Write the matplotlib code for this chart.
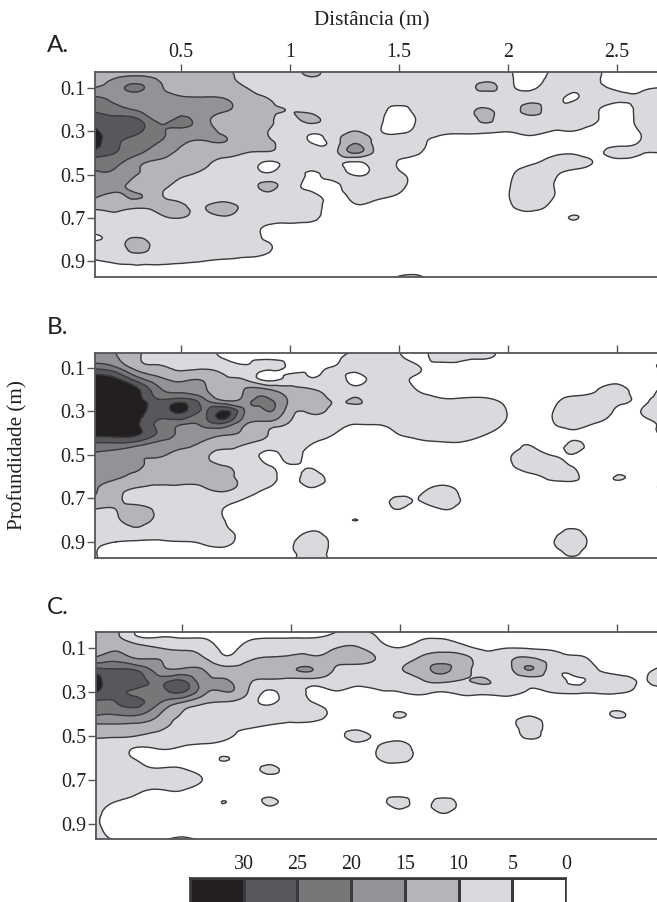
import numpy as np
import matplotlib
matplotlib.use("Agg")
import matplotlib.pyplot as plt
import matplotlib.tri as tri
from matplotlib.colors import ListedColormap

W, H = 657, 902

# grid the values were read on (m)
dist = [0.1, 0.2, 0.3, 0.4, 0.5, 0.6, 0.7, 0.8, 0.9, 1.0, 1.1, 1.2, 1.3, 1.4,
        1.5, 1.6, 1.7, 1.8, 1.9, 2.0, 2.1, 2.2, 2.3, 2.4, 2.5, 2.6, 2.7]
prof = [0.0, 0.05, 0.1, 0.15, 0.2, 0.25, 0.3, 0.35, 0.4, 0.45, 0.5,
        0.55, 0.6, 0.65, 0.7, 0.75, 0.8, 0.85, 0.9, 0.95, 1.0]

panel_a = [
    [12,12,12,12,11,11,11,8,8,8,12,8,8,7,7,7,7,7,7,6,3,6,8,6,2,2,2],
    [12,14.5,15.5,14,12,12,11,9,8,8,10,8,8,7,7,7,7,7,8,6,3,6,7,6,2,2,2],
    [15,18,21,16,13,12,11.5,10,8,7.5,7,7,7,7,7,7,7,8,11,7,4,7,6,6,4,4,5],
    [21,19,17,16,15.5,15.5,15,12,10,8,7.5,7,7,7,7,7,7,7,7,7,8,7,4.6,7,6,5.5,7],
    [24,22,19,17,18,17,15.5,13,11,9.8,8.5,7,8,7,4,7,7,7,10.7,7,12,7,7,6,3,6,7],
    [28,27,26,19,21,17,13,12,11,8.5,11,7,7,6,3,6,7,7,10.7,7,8,6,6,5.5,3,6,8],
    [31,28,26,21,19,17,14,12,10,7.5,6,7,10,6,4,6,6,6,6,5.2,6,5,5,3,2,5,8],
    [33,26,23,20,16,14.5,15,12,10.5,8,4.8,7,14.5,8,8,6,3.5,3,3,3,3.5,3,3,3,3,5,8],
    [28,25,21,17,14,12,11.5,10,9.5,8,7,8,15.5,8,7,5,3,3,3,3,3,4,4.5,4,6.5,5.5,5],
    [22,21,16,14,13,11,9,8,4,7,7,7,3.5,7,4.5,3,3,3,3,3,4.5,6.5,7,4.5,3,3,3],
    [19,19,15,13,11,9,8,7.5,6,7,4.5,6.5,4.5,7,6,3,3,3,3,4,8,6.5,3,3,3,3,3],
    [18,17,13,11.5,8,7,7,8,11,7,4,4,7,7,6,3,3,3,3,4.5,8,5.5,2,3,3,3,3],
    [16,14,15.5,11,8,7,7,7,8.5,7,6,4,6,6,4.5,3,3,3,3,4.8,8,5.5,3,3,3,3,3],
    [11,11,10.5,11,11,9.5,12,8,7,7,6.5,3.5,4.5,3,3,3,3,3,3,4,6.5,4,3,3,3,3,3],
    [8,9,8,9,10,8,9,7,7,6.5,6,3,3,3,3,3,3,3,3,3,3,3,5.2,3,3,3,3],
    [6,7,7,7,7,7,7,7,4,3.5,3,3,3,3,3,3,3,3,3,3,3,3,3,3,3,3,3],
    [4.8,7,11,7,7,7,7,6.5,4.5,3,3,3,3,3,3,3,3,3,3,3,3,3,3,3,3,3,3],
    [6.5,7,11,7.5,7,7,6.5,6.5,5.5,2,3,3,3,3,3,3,3,3,3,3,3,3,3,3,3,3,3],
    [4.5,5.5,6,6,5.5,5,4.5,4,3,3,3,3,3,3,3,3,3,3,3,3,3,3,3,3,3,3,3],
    [3,3,4.5,3,3,3,3,3,3,3,3,3,3,3,4,4,3,3,3,3,3,3,3,3,3,3,3],
    [3,3,3,3,3,3,3,3,3,3,3,3,3,3,8,8,3,3,3,3,3,3,3,3,3,3,3],
]

panel_b = [
    [17,15,11,9,8,7,4,3,3,3,3,4,5,6,6,4,8,7,6,3,3,3,3,3,3,3,3],
    [17,15.5,10.5,9,8,7,4.5,4,4,4,4,4.5,5.5,5.5,5.5,4,7,6,5.5,3,3,3,3,3,3,3,3],
    [24,21,13,11,9,9.5,8,5.5,6,4.5,4.5,5.3,6,7,7,5,3,3,3,3,3,3,3,3,3,3,5.5],
    [33,31,22,16,14,14.5,11,9,3.5,6.5,5.2,6.5,4,7,6.5,4,3,3,3,3,3,3,3,3,3,3,3],
    [35,35,31,21,18,16,12,15.5,15.5,12,10.5,7.5,7,7,7,4.5,3.5,3,3,3,3,3,3,4.5,7,3,6],
    [36,36,33,26,28,22,15,18,21,14.5,14,9.5,10.5,7,7,6.5,5.5,5.8,5.8,4,3,4,6.5,7,6.5,4.5,7],
    [37,37,34,27,31,24.5,31,19,20,12,11,8,7,7,7,7,7,7,7,4.8,3,4.8,7,7,4.5,4.8,8],
    [37,37,31,24,22,22,26,16,14,9.8,8,6.5,5.3,5.5,5.5,7,8,7,6.5,4.5,3,4.8,6,5.2,4,4,5.5],
    [33,33,31,24,19,17.5,16,14,10,7.5,7,5.2,3.5,3.5,5.2,6.5,7,6.5,5.3,3,3,3,4.5,3,3,3,5.5],
    [24,24,22,18,17,14,12,10,7.5,7,5,3.5,3,3,3,4,4.5,4.5,3,3,4.8,3,5.6,3,3,3,3],
    [19.5,18,15.5,15.5,13,11,8.5,7.5,4,6,3.5,3,3,3,3,3,3,3,3,4.5,6.5,4.9,4.9,3,3,3,3],
    [18,17,16,12,11,11,10,8,5.2,4.5,4.5,3,3,3,3,3,3,3,3,4,7,6,4.8,3,3,3,3],
    [17,16,13,11,11,11.5,11.5,8.5,7,3.5,6.5,3,3,3,3,3,3,3,3,3,4,6,6,3,5.2,3,3],
    [16,12,10,9.5,9.5,9.8,11,8,5,3.5,5,3,3,3,3,3.5,6,3,3,3,3,2.5,2.5,3,3,3,5.5],
    [14.5,11,8.5,8,8,8,7.5,4.8,3,3,3,3,3,3,5.5,5.3,8,4,3,3,3,3,3,3,3,3,3],
    [10,10,11,9,7,6.5,4.8,3,3,3,3,3,3,3,5,3,5,3,3,3,3,3,3,3,3,3,3],
    [8,9.5,11,9,7,6.5,5,3,3,3,3,3,5.05,3,3,3,3,3,3,3,3,3,3,3,3,3,3],
    [7,7.5,9,7,7,6.5,6,3,3,3,5,3,3,3,3,3,3,3,3,3,3,3.5,5.5,3,3,3,3],
    [6,5,4.5,4.6,4.9,5.5,6,3.5,3,4,7.5,4,3,3,3,3,3,3,3,3,3,4.5,7.5,3,3,3,3],
    [5.5,3,3,3,3,3,3.5,3,3,4,7,3.5,3,3,3,3,3,3,3,3,3,3.5,5.5,3,3,3,3],
    [6,3,3,3,3,3,3,3,3,3,8,3,3,3,3,3,3,3,3,3,3,3,3,3,3,3,3],
]

panel_c = [
    [14,12,6,3,3,3,3,3,3,3,3,4,4,3,3,3,3,3,3,3,3,3,3,3,3,3,3],
    [13,11,5,4.8,4.5,4.5,3,4,4.5,4.5,4.5,6,7,4.8,3,4.5,4.5,4,3,3,3,3,3,3,3,3,3],
    [13,14,12,9.8,9,8,4,6.5,8,8.5,8.8,9.7,10.5,7,5,7,8,6,4,4.8,4.5,4,3,3,3,3,3],
    [16,18,15,14.8,12,10.5,6,9,10.5,11,11,11,12,9.5,7.5,11,13,11.5,7,9,10.8,7.5,6,4,3,3,3],
    [27,25.5,24,17,16,15,12,12,13,14,15.1,9.8,8,7.5,9.5,13,16,11.5,7.5,8,15.2,7.5,6,5.3,3.5,3.5,6],
    [33,27,27,23,25.5,17,15.5,11,9,8.5,8,7,6.5,6.5,7,9.5,11,9.8,10.3,7,7,6.5,4.7,6,7,4.8,7],
    [31,26,24,23,25.5,16.5,15,10.3,4.5,6.5,4,4.8,3.5,4.5,5,6,5,6.5,6.5,6.5,4.5,5.2,5.3,5.3,5.6,4,3],
    [24,25,26,20,14.5,10.5,9.5,7.5,4.3,7,5.2,3.5,3,3,3,3,3,3,3,3,3,3,3,3,3,3,3],
    [21,20.5,20.8,15,9.8,8,7.5,7.5,7,7,7,4,3,3,5.3,3,3,3,3,3,4.5,3,3,3,5.5,3,3],
    [14.5,14.5,14,12,8,7.5,6.5,6,5,4.3,4,3,3,3,3,3,3,3,3,3,7,3,3,3,3,3,3],
    [10.5,10.5,9.8,8,7,7,6,3.5,3,3,3,3,6.5,3.5,3,3,3,3,3,3,5.8,3,3,3,3,3,3],
    [8,7,5,5.5,4.8,4,3.5,3,3,3,3,3,3,5,7,3,3,3,3,3,3,3,3,3,3,3,3],
    [8,6.5,4.5,3.5,3,3,5.2,3,3,3,3,3,3,5,7,3,3,3,3,3,3,3,3,3,3,3,3],
    [7.5,7,6,5.3,5.3,3.5,3,3,5.8,3,3,3,3,3,3,3,3,3,3,3,3,3,3,3,3,3,3],
    [7.5,7,7,7,7,4.8,3,3,3,3,3,3,3,3,3,3,3,3,3,3,3,3,3,3,3,3,3],
    [7,7,5.5,4.5,4.8,3,3,3,3,3,3,3,3,3,3,3,3,3,3,3,3,3,3,3,3,3,3],
    [6.5,4.8,3.5,3,3,3,5.05,3,5.6,3,3,3,3,3,6.5,3.5,6.5,3,3,3,3,3,3,3,3,3,3],
    [6,3.5,3,3,3,3,3,3,3,3,3,3,3,3,3.5,3,5,3,3,3,3,3,3,3,3,3,3],
    [6,3,3,3,3,3,3,3,3,3,3,3,3,3,3,3,3,3,3,3,3,3,3,3,3,3,3],
    [6.5,4,3,3,4.5,3,3,3,3,3,3,3,3,3,3,3,3,3,3,3,3,3,3,3,3,3,3],
    [7,5.5,3,3,12,3,3,3,3,3,3,3,3,3,3,3,3,3,3,3,3,3,3,3,3,3,3],
]

levels = [5, 10, 15, 20, 25, 30]
band_colors = ["#ffffff", "#d9dadd", "#b3b5b8", "#929396", "#77777a", "#58585c", "#231f20"]
legend_edges = [0, 5, 10, 15, 20, 25, 30, 35]
legend_labels = ["0", "5", "10", "15", "20", "25", "30"]

x_ticks = [0.5, 1, 1.5, 2, 2.5]
x_labels = ["0.5", "1", "1.5", "2", "2.5"]
y_ticks = [0.1, 0.3, 0.5, 0.7, 0.9]
y_labels = ["0.1", "0.3", "0.5", "0.7", "0.9"]

SERIF = "Liberation Serif"
SPINE = "#555558"


def px_axes(fig, left, top, right, bottom):
    return fig.add_axes([left / W, 1 - bottom / H, (right - left) / W, (bottom - top) / H])


def draw_panel(ax, values, y_lim, show_x_labels):
    xx, yy = np.meshgrid(dist, prof)
    mesh = tri.Triangulation(xx.ravel(), yy.ravel())
    refiner = tri.UniformTriRefiner(mesh)
    fine, z = refiner.refine_field(np.array(values, dtype=float).ravel(), subdiv=3)
    ax.tricontourf(fine, z, levels=[-100] + levels + [200], colors=band_colors)
    ax.tricontour(fine, z, levels=levels, colors="#3a3a3c", linewidths=1.0)

    ax.set_xlim(0.1055, 2.683)
    ax.set_ylim(*y_lim)
    ax.xaxis.tick_top()
    ax.set_xticks(x_ticks)
    ax.set_xticklabels(x_labels if show_x_labels else [])
    ax.set_yticks(y_ticks)
    ax.set_yticklabels(y_labels)
    ax.tick_params(axis="both", length=5.5, width=1, color=SPINE, pad=1.5,
                   labelsize=14.4, labelfontfamily=SERIF, labelcolor="#231f20")
    for side in ["left", "top", "bottom"]:
        ax.spines[side].set_linewidth(1.3)
        ax.spines[side].set_color(SPINE)
    ax.spines["right"].set_visible(False)


fig = plt.figure(figsize=(W / 100, H / 100), dpi=100)

ax_a = px_axes(fig, 95, 72, 657, 277)
draw_panel(ax_a, panel_a, (0.972, 0.028), True)
ax_b = px_axes(fig, 95, 353, 657, 558)
draw_panel(ax_b, panel_b, (0.974, 0.031), False)
ax_c = px_axes(fig, 96, 632, 657, 839)
draw_panel(ax_c, panel_c, (0.966, 0.029), False)

# legend strip
cax = px_axes(fig, 190, 878, 566, 905)
cax.pcolormesh(legend_edges, [0, 1], np.arange(7).reshape(1, 7),
               cmap=ListedColormap(band_colors), edgecolors="#3a3a3c", linewidth=1.0)
cax.set_xlim(35, 0)
cax.set_ylim(0, 1)
cax.xaxis.tick_top()
cax.set_xticks(legend_edges[:-1])
cax.set_xticklabels(legend_labels)
cax.set_yticks([])
cax.tick_params(axis="x", length=0, pad=3, labelsize=14.4, labelfontfamily=SERIF,
                labelcolor="#231f20")
for spine in cax.spines.values():
    spine.set_linewidth(1.2)
    spine.set_color("#3a3a3c")

fig.text(372 / W, 1 - 21 / H, "Distância (m)", ha="center", va="center",
         family=SERIF, fontsize=15.2, color="#231f20")
fig.text(18 / W, 1 - 455 / H, "Profundidade (m)", ha="center", va="center", rotation=90,
         family=SERIF, fontsize=15.2, color="#231f20")
for letter, ypx in [("A.", 46), ("B.", 327), ("C.", 607)]:
    fig.text(47 / W, 1 - ypx / H, letter, ha="left", va="center",
             family="Lato", fontsize=17.5, color="#231f20")

fig.savefig("out.png", dpi=100)
